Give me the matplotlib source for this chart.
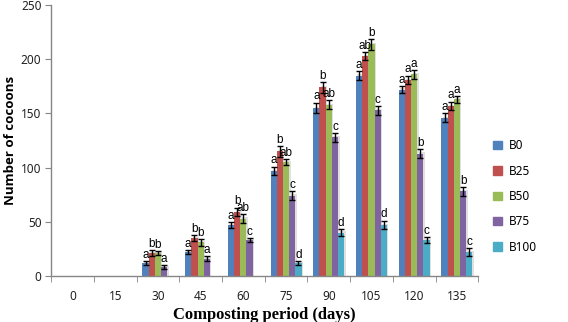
import matplotlib
matplotlib.use("Agg")
import matplotlib.pyplot as plt
import numpy as np

days = ["0", "15", "30", "45", "60", "75", "90", "105", "120", "135"]
series = ["B0", "B25", "B50", "B75", "B100"]
colors = ["#4F81BD", "#C0504D", "#9BBB59", "#8064A2", "#4BACC6"]

b0 = [0, 0, 12, 22, 47, 97, 155, 185, 172, 146]
b25 = [0, 0, 21, 35, 59, 115, 174, 203, 181, 157]
b50 = [0, 0, 21, 31, 53, 105, 158, 214, 186, 163]
b75 = [0, 0, 8, 16, 33, 74, 128, 153, 113, 78]
b100 = [0, 0, 0, 0, 0, 12, 40, 47, 33, 22]

err_b0 = [0, 0, 2, 2, 3, 4, 5, 4, 3, 4]
err_b25 = [0, 0, 3, 3, 4, 5, 5, 4, 4, 4]
err_b50 = [0, 0, 2, 3, 4, 3, 4, 5, 4, 3]
err_b75 = [0, 0, 2, 2, 2, 4, 4, 4, 4, 4]
err_b100 = [0, 0, 0, 0, 0, 2, 3, 4, 3, 4]

letters_b0 = ["", "", "a", "a", "a", "a", "a", "a", "a", "a"]
letters_b25 = ["", "", "b", "b", "b", "b", "b", "ab", "a", "a"]
letters_b50 = ["", "", "b", "b", "ab", "ab", "ab", "b", "a", "a"]
letters_b75 = ["", "", "a", "a", "c", "c", "c", "c", "b", "b"]
letters_b100 = ["", "", "", "", "", "d", "d", "d", "c", "c"]

values = [b0, b25, b50, b75, b100]
errors = [err_b0, err_b25, err_b50, err_b75, err_b100]
letters = [letters_b0, letters_b25, letters_b50, letters_b75, letters_b100]

fig = plt.figure(figsize=(5.68, 3.22), dpi=100)
ax = fig.add_axes([0.09, 0.143, 0.752, 0.841])

x = np.arange(len(days))
width = 0.145
for i, name in enumerate(series):
    pos = x + (i - 2) * width
    vals = np.array(values[i], dtype=float)
    errs = np.array(errors[i], dtype=float)
    has = vals > 0
    # soft shadow behind the bars
    ax.bar(pos[has] + 0.035, vals[has] + 1.2, width, color="#d4d4d4",
           alpha=0.7, zorder=1)
    ax.bar(pos, vals, width, color=colors[i], label=name, zorder=2)
    ax.errorbar(pos[has], vals[has], yerr=errs[has], fmt="none", ecolor="black",
                elinewidth=1.0, capsize=2.2, capthick=1.0, zorder=3)
    for p, v, e, t in zip(pos, vals, errs, letters[i]):
        if t:
            ax.text(p, v + e + 0.2, t, ha="center", va="bottom", fontsize=8.5,
                    family="Liberation Sans", color="black", zorder=4)

ax.set_xlim(-0.5, len(days) - 0.5)
ax.set_ylim(0, 250)
ax.set_yticks(np.arange(0, 251, 50))
ax.set_xticks(x)
ax.set_xticklabels(days)
ax.set_xticks(np.arange(-0.5, len(days), 1), minor=True)
ax.tick_params(axis="x", which="major", length=0, pad=10, labelsize=8.5)
ax.tick_params(axis="x", which="minor", length=4, color="#868686", direction="out")
ax.tick_params(axis="y", length=4, color="#868686", labelsize=8.5, pad=3)
for lab in ax.get_xticklabels() + ax.get_yticklabels():
    lab.set_family("Noto Sans")
    lab.set_color("#222222")

for side in ["top", "right"]:
    ax.spines[side].set_visible(False)
for side in ["left", "bottom"]:
    ax.spines[side].set_color("#868686")
    ax.spines[side].set_linewidth(1.0)

ax.set_ylabel("Number of cocoons", fontsize=9.5, fontweight="bold", family="Open Sans")
ax.yaxis.set_label_coords(-0.08, 0.5)
ax.set_xlabel("Composting period (days)", fontsize=12, fontweight="bold",
              family="Liberation Serif", labelpad=3)

handles = [plt.Rectangle((0, 0), 1, 1, color=c) for c in colors]
fig.legend(handles, series, loc="center left", bbox_to_anchor=(0.85, 0.39),
           frameon=False, handlelength=0.7, handleheight=0.7,
           labelspacing=1.05, handletextpad=0.6, prop={"family": "Noto Sans", "size": 8.5})

fig.savefig("out.png", dpi=100)
